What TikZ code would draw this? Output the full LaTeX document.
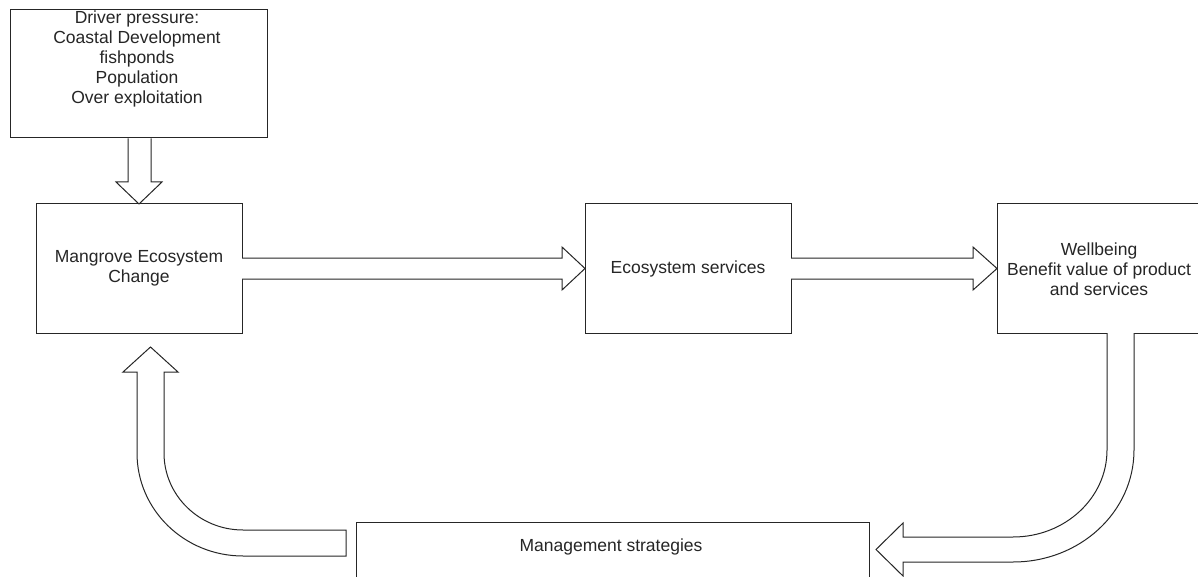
\documentclass[tikz,border=0pt]{standalone}
\usepackage{fontspec}
\setmainfont{Liberation Sans}
\begin{document}
\begin{tikzpicture}[x=1pt,y=-1pt,
  box/.style={draw=black!85, line width=1pt, fill=white, rectangle, inner sep=0pt},
  txt/.style={align=center, font=\fontsize{17.5}{20.2}\selectfont, text=black!85, inner sep=0pt},
  barrow/.style={draw=black!85, line width=1pt, fill=white, line join=miter}]
\useasboundingbox (0,0) rectangle (1198,577);
\clip (0,0) rectangle (1198,577);
% boxes
\node[box, minimum width=257pt, minimum height=128pt] (drv) at (138.5,74) {};
\node[txt] (drvtxt) at (137,59) {Driver pressure:\\Coastal Development\\fishponds\\Population\\Over exploitation};
\node[box, minimum width=206pt, minimum height=129pt] (mec) at (139,268.5) {};
\node[txt] (mectxt) at (139,268) {Mangrove Ecosystem\\Change};
\node[box, minimum width=206pt, minimum height=129pt] (ecs) at (688,268.5) {};
\node[txt] (ecstxt) at (688,269) {Ecosystem services};
\node[box, minimum width=215pt, minimum height=129pt] (wb) at (1104.5,268.5) {};
\node[txt] (wbtxt) at (1099,269) {Wellbeing\\Benefit value of product\\and services};
\node[box, minimum width=513pt, minimum height=90pt] (mgt) at (612.5,567) {};
\node[txt] (mgttxt) at (611,547) {Management strategies};
% down arrow driver -> mangrove
\draw[barrow] (128,138.5) -- (128,182) -- (116,182) -- (139,204) -- (162,182) -- (151,182) -- (151,138.5);
% mangrove -> ecosystem services
\draw[barrow] (242,258) -- (562,258) -- (562,247) -- (585,268.5) -- (562,290) -- (562,279) -- (242,279);
% ecosystem services -> wellbeing
\draw[barrow] (791,258) -- (973,258) -- (973,247) -- (997,268.5) -- (973,290) -- (973,279) -- (791,279);
% wellbeing -> management (curved)
\draw[barrow] (1107,333) -- (1107,450) .. controls (1107,498) and (1065,537) .. (1013,537)
  -- (903,537) -- (903,523) -- (876,549.5) -- (903,576) -- (903,562) -- (1013,562)
  .. controls (1080,562) and (1134,512) .. (1134,450) -- (1134,333);
% management -> mangrove (curved)
\draw[barrow] (346,530) -- (243,530) .. controls (199.4,530) and (164,495.5) .. (164,453)
  -- (164,372) -- (178,372) -- (150.5,347) -- (123,372) -- (137,372) -- (137,453)
  .. controls (137,510) and (184.5,556) .. (243,556) -- (346,556) -- cycle;
\end{tikzpicture}
\end{document}
